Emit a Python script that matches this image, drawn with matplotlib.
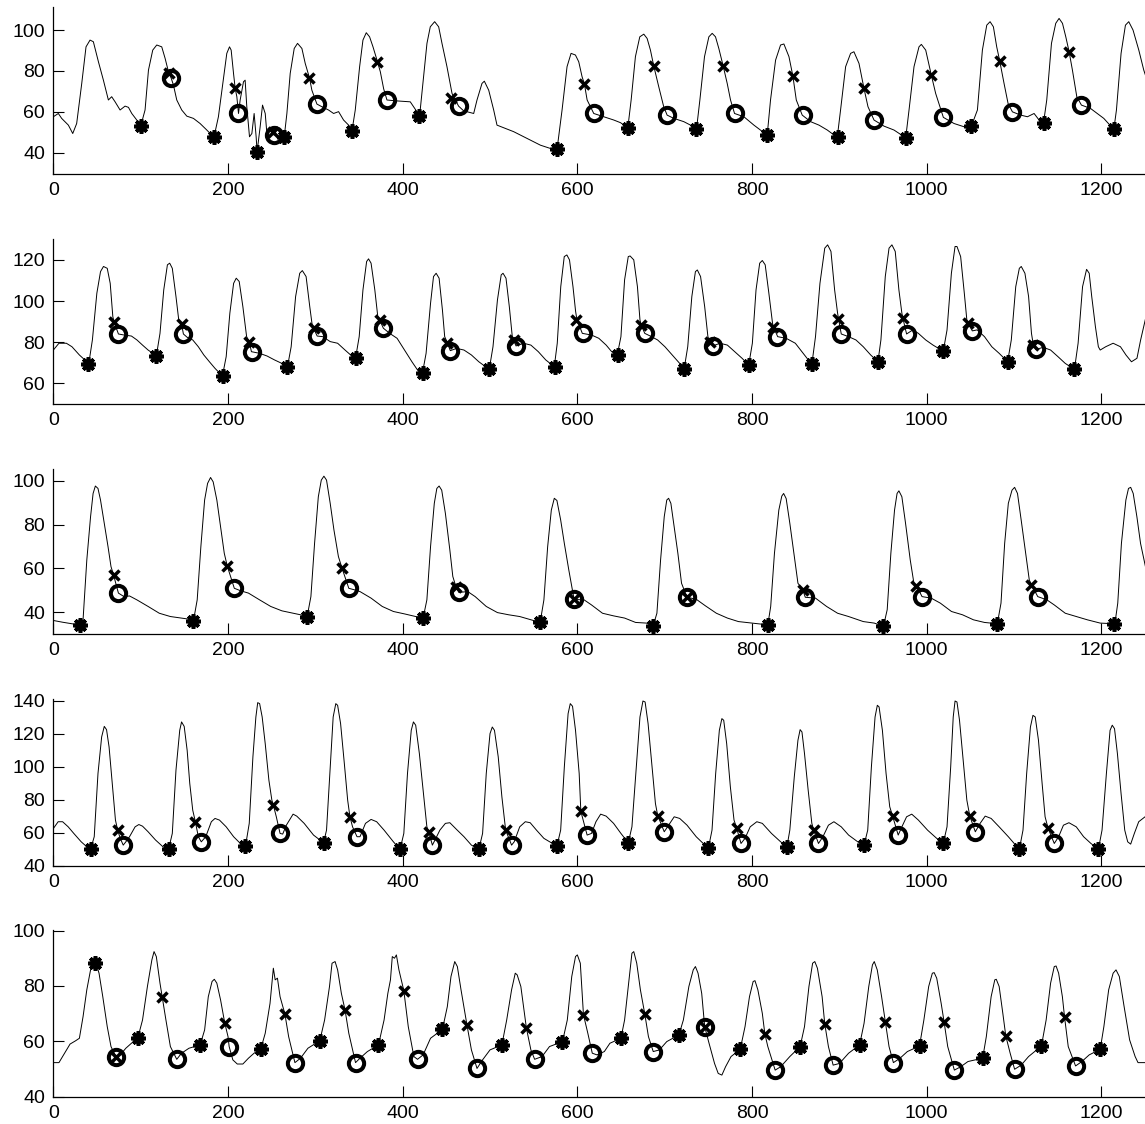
import matplotlib
matplotlib.use("Agg")
import matplotlib.pyplot as plt

plt.rcParams['font.family'] = ['Liberation Sans', 'DejaVu Sans']

# ---------------- panel 1 ----------------
trace1 = [(0, 57.6), (5.7, 59.2), (9.5, 56.8), (17.2, 53.5), (22.2, 49.4), (26.7, 54.3), (32.5, 73.9), (37.4, 91.8), (42, 95.1), (45.8, 94.3), (51.6, 84.5), (57.3, 75.5), (63, 65.8), (66.8, 67.4), (70.7, 64.9), (76.4, 60.9), (82.1, 62.8), (86, 62.2), (89.8, 59.2), (95.5, 56), (100, 53), (105, 60.9), (108.9, 80.4), (113.8, 90.2), (118.4, 92.7), (124.1, 91.8), (128, 86.1), (131.8, 79.6), (135, 76.4), (137.5, 73.1), (141.3, 65.8), (147, 60.9), (152.8, 57.9), (160.4, 56.8), (168, 54.3), (175.7, 51.1), (181.4, 48.6), (184, 47.8), (189, 57.6), (194, 73.9), (198.6, 88.6), (201.7, 91.8), (203.6, 90.2), (206.3, 78.8), (208.2, 71.5), (210.1, 67.4), (212, 59.2), (213.9, 65.8), (217.7, 74.7), (219.6, 75.5), (221.5, 62.5), (224.6, 47.8), (227.3, 49.4), (229.9, 59.2), (232.2, 47.8), (233.3, 40.5), (236.8, 52.7), (239.5, 63.3), (242.6, 59.2), (244.5, 49.4), (248.3, 51), (252.9, 48.6), (255.9, 52.7), (259.7, 49.4), (264.3, 47.5), (267.4, 59.2), (271.2, 78.8), (275.8, 91), (279.6, 93.5), (284.6, 91), (288.4, 83.7), (293.4, 76.4), (296, 70.6), (301.8, 63.8), (307.5, 62.5), (315.1, 60.9), (320.9, 59.2), (326.6, 60.1), (332.3, 56), (338.1, 53.5), (341.9, 50.6), (345.7, 60.9), (350.7, 82.1), (354.5, 95.1), (358.3, 98.7), (362.1, 96.7), (366, 91.8), (370.6, 85.3), (374.4, 79.6), (378.2, 71.3), (382, 65.8), (391.6, 65.4), (408.7, 64.9), (412.5, 62.5), (419.4, 58.1), (423.2, 73.9), (427.8, 93.5), (431.6, 101.6), (436.6, 104.1), (441.2, 101.6), (445, 93.5), (450.7, 82.1), (456.5, 69), (464, 62.8), (469.8, 60.5), (481.3, 59.2), (485.1, 65.8), (490.8, 73.9), (493.5, 75), (498.5, 70.6), (504.2, 60.9), (508, 53.5), (527.1, 50.3), (542.4, 47), (557.7, 43.7), (569.1, 42.1), (576.8, 41.8), (582.5, 60.9), (588.2, 82.1), (592.8, 88.6), (597.8, 87.8), (601.6, 84.5), (605.4, 77.2), (608.1, 73.6), (611.2, 65.8), (618.8, 59.2), (630.3, 57.6), (641.7, 56), (649.4, 54.7), (657.8, 52.2), (661.6, 65.8), (666.5, 87), (671.5, 96.7), (676.1, 98), (679.9, 95.9), (683.7, 90.2), (687.5, 82.4), (693.2, 72.3), (698.9, 62.5), (702.8, 58.4), (710.5, 56.8), (721.9, 55.2), (729.6, 53.5), (736.4, 51.4), (740.3, 65.8), (745.6, 87), (750.6, 96.7), (754.4, 98.4), (758.2, 96.7), (762, 91), (767, 82.4), (771.6, 73.9), (775.4, 65.8), (780, 59.2), (790.7, 57.6), (802.2, 53.5), (817.4, 48.6), (821.2, 65.8), (827, 85.3), (832.7, 92.7), (836.5, 93.2), (842.3, 87), (846.8, 77.5), (850.7, 65.8), (857.5, 58.4), (867.1, 55.2), (876.7, 53.5), (886.2, 51.1), (897.6, 47.5), (901.4, 60.9), (907.2, 82.1), (912.9, 88.6), (916.7, 89.4), (922.5, 83.7), (928.2, 71.5), (932.8, 62.5), (939.7, 56), (951.2, 53), (962.6, 51.1), (976, 47.3), (979.8, 60.9), (985.5, 82.1), (991.2, 91.8), (993.9, 93), (998.9, 90.2), (1005.3, 78), (1010.3, 69), (1019.1, 57.3), (1031.3, 54.3), (1042.8, 52.7), (1051.2, 53), (1058.1, 60.9), (1063.8, 90.2), (1068.8, 102.4), (1072.6, 104.1), (1076.4, 101.6), (1080.2, 91.8), (1083.6, 85), (1088.6, 73.9), (1093.2, 64.1), (1098.2, 60), (1107.7, 58.4), (1115.4, 57.6), (1123, 59.2), (1128.7, 56), (1133.7, 54.3), (1137.5, 65.8), (1142.9, 93.5), (1147.8, 103.3), (1151.6, 105.7), (1155.5, 103.3), (1159.3, 96.7), (1163.1, 89.4), (1166.9, 80.4), (1171.9, 67.4), (1177.2, 63.3), (1187.5, 61.7), (1195.2, 59.2), (1202.8, 56.8), (1214.3, 51.4), (1217.3, 60.9), (1222.6, 88.6), (1227.6, 102.4), (1231.4, 104.1), (1236.3, 100), (1242.9, 90.2), (1248.6, 80.4), (1252, 76)]
onset1_x = [100, 184, 233, 264, 342, 419, 577, 658, 736, 817, 898, 976, 1051, 1134, 1214]
onset1_y = [53, 47.8, 40.5, 47.5, 50.6, 58.1, 41.8, 52.2, 51.4, 48.6, 47.5, 47.3, 53, 54.3, 51.4]
cross1_x = [132, 208, 252, 293, 371, 455, 608, 688, 767, 847, 928, 1005, 1084, 1163]
cross1_y = [79, 71.5, 50, 76.4, 84.5, 67, 73.6, 82.4, 82.4, 77.5, 71.5, 78, 85, 89.4]
circ1_x = [135, 212, 253, 302, 382, 464, 619, 703, 780, 858, 940, 1019, 1098, 1177]
circ1_y = [76.4, 59.2, 48.6, 63.8, 65.8, 62.8, 59.2, 58.4, 59.2, 58.4, 56, 57.3, 60, 63.3]

# ---------------- panel 2 ----------------
trace2 = [(0, 76.2), (6.4, 79.5), (14.9, 79.5), (21.3, 77.8), (29.8, 73.8), (38.3, 70.5), (40.4, 69.2), (44.7, 81.1), (49.8, 103.8), (54, 114.3), (57.4, 116.8), (61.7, 115.9), (65.1, 108.6), (68.1, 92.4), (69.4, 90), (74.5, 84), (80.9, 83.5), (89.4, 83), (95.7, 81.1), (102.1, 78.6), (108.5, 76.2), (114.9, 74.3), (117.9, 73.3), (122.1, 84.3), (126.4, 105.4), (130.6, 117.6), (133.2, 118.4), (136.2, 115.9), (140.4, 102.2), (143.8, 90), (146.8, 88.9), (148.9, 84), (153.2, 82.4), (159.6, 81.1), (166, 77.8), (172.3, 73.8), (178.7, 70.5), (185.1, 67.3), (193.6, 63.6), (197.9, 73), (202.1, 94.1), (206.4, 108.6), (209.4, 111.1), (212.8, 109.5), (217, 97.3), (221.3, 82.7), (224.3, 80.3), (226.8, 75.4), (236.2, 74.6), (244.7, 73.3), (253.2, 71.4), (261.7, 69.7), (268.1, 68.1), (272.3, 77.8), (277.4, 102.2), (282.1, 113.5), (285.1, 114.8), (289.4, 111.9), (293.6, 97.3), (296.6, 87.6), (297.9, 86.8), (302.1, 83), (308.5, 82.7), (317, 80.3), (325.5, 79.5), (334, 76.2), (340.4, 73.8), (346, 72.2), (350.2, 82.7), (354.5, 105.4), (358.7, 119.2), (360.9, 120.5), (363.8, 118.4), (368.1, 105.4), (371.5, 92.4), (373.6, 90.8), (377.9, 86.8), (385.1, 84.3), (393.6, 81.9), (402.1, 76.2), (410.6, 70.5), (417, 66.5), (422.6, 64.9), (426.8, 74.6), (431.9, 98.9), (435.3, 111.9), (438.3, 113.5), (441.7, 111.1), (445.5, 95.7), (448.1, 82.7), (451.1, 79.8), (454.5, 75.9), (461.7, 77), (470.2, 76.2), (478.7, 73.8), (487.2, 70.5), (499.1, 66.8), (503.4, 77.8), (508.5, 100.5), (512.8, 112.7), (514.9, 113.5), (518.3, 111.1), (522.1, 97.3), (525.5, 82.7), (526.8, 81.1), (529.8, 78.2), (538.3, 79.5), (546.8, 78.6), (555.3, 75.4), (563.8, 71.4), (573.6, 68.1), (577, 79.5), (581, 107), (585, 121.6), (588, 122.4), (591, 120), (595, 107), (598, 95), (599.5, 91), (605.7, 84.3), (616.2, 83.5), (624.6, 81.9), (633, 78.6), (639.3, 75.4), (645.7, 73.8), (649.9, 82.7), (654.1, 110.3), (658.3, 121.6), (660.4, 121.9), (664.6, 120), (668.8, 107), (671.7, 90.8), (673, 88.4), (677.2, 84.3), (683.5, 83), (691.9, 81.1), (700.3, 77.8), (708.7, 73.8), (717.2, 69.7), (722.2, 66.8), (726.4, 77.8), (731.1, 102.2), (735.2, 114.3), (737.4, 115.1), (741.1, 111.9), (745.8, 97.3), (749.5, 82.7), (752, 80), (755, 78.2), (763.4, 79.5), (771.8, 78.6), (780.2, 75.4), (788.6, 72.2), (796.2, 68.9), (800.4, 79.5), (804.6, 105.4), (808.8, 118.4), (811.8, 119.7), (815.1, 117.6), (819.3, 103.8), (823.5, 89.2), (824.4, 87.6), (829.4, 82.7), (839.1, 81.9), (849.6, 79.5), (860.1, 73.8), (868.5, 69.2), (872.7, 82.7), (877.8, 108.6), (883.3, 125.7), (886.6, 127.3), (890.4, 124.1), (894.6, 105.4), (898, 94.1), (899.2, 91.1), (902.2, 84), (910.6, 82.7), (919, 81.1), (927.4, 77.8), (935.9, 73.8), (944.2, 70.5), (947.6, 81.1), (952.6, 111.9), (956.9, 125.7), (960.2, 127.3), (964, 124.1), (968.2, 105.4), (971.6, 94.1), (972.8, 91.6), (977, 84), (984.2, 86), (990.5, 84.3), (998.9, 81.1), (1007.3, 78.6), (1013.6, 77), (1019.1, 75.9), (1023.3, 85.9), (1028.3, 113.5), (1032.5, 126.5), (1034.7, 126.5), (1038.9, 121.6), (1043.1, 103.8), (1046, 90.8), (1047.3, 89.2), (1052.3, 85.5), (1057.8, 86), (1066.2, 82.7), (1074.6, 77.8), (1083, 74.6), (1092.7, 70.5), (1096.9, 81.1), (1102, 107), (1106.1, 115.9), (1108.3, 116.8), (1112.5, 113.5), (1116.7, 102.2), (1120, 84.3), (1122, 79), (1125, 76.5), (1133.5, 77.5), (1141.9, 76.2), (1150.3, 73), (1158.7, 69.7), (1169.2, 66.8), (1173.4, 79.5), (1178.5, 107), (1183.1, 115.4), (1186.1, 113.5), (1189, 102.2), (1193.2, 87.6), (1196.6, 77.8), (1198.7, 76.2), (1205, 77.8), (1213.5, 79.5), (1221.9, 77.8), (1228.2, 73.8), (1234.5, 70.5), (1240.8, 72.2), (1245, 81.1), (1252, 94)]
onset2_x = [40, 118, 194, 268, 346, 423, 499, 574, 646, 722, 796, 869, 944, 1019, 1093, 1169]
onset2_y = [69.2, 73.3, 63.6, 68.1, 72.2, 64.9, 66.8, 68.1, 73.8, 66.8, 68.9, 69.2, 70.5, 75.9, 70.5, 66.8]
cross2_x = [69, 147, 224, 298, 374, 451, 527, 599, 673, 752, 824, 899, 973, 1047, 1122]
cross2_y = [90, 88.9, 80.3, 86.8, 90.8, 79.8, 81.1, 91, 88.4, 80, 87.6, 91.1, 91.6, 89.2, 78.5]
circ2_x = [74.5, 149, 227, 302, 378, 454.5, 530, 606, 677, 755, 829, 902, 977, 1052, 1125]
circ2_y = [84, 84, 75.4, 83, 86.8, 75.9, 78.2, 84.3, 84.3, 78.2, 82.7, 84, 84, 85.5, 76.5]

# ---------------- panel 3 ----------------
trace3 = [(0, 36.2), (10.6, 35.4), (21.3, 34.7), (29.8, 34.2), (34, 36.5), (38.3, 63.8), (42.6, 83.6), (45.5, 94.2), (48.1, 97.6), (51.1, 96.5), (54, 91.2), (58.3, 80.6), (62.6, 69.9), (66, 60.8), (68.9, 57), (74.5, 48.7), (80.9, 47.1), (87.2, 47.4), (95.7, 45.6), (108.5, 42.6), (121.3, 39.5), (134, 38), (146.8, 37.3), (155.3, 36.8), (160.4, 36), (164.7, 45.6), (168.9, 69.9), (173.2, 91.2), (176.6, 98.8), (180, 101.5), (183, 99.5), (187.2, 91.2), (191.5, 79), (195.7, 66.9), (199.1, 61.1), (207.2, 50.9), (214.9, 49.7), (223.4, 48.7), (236.2, 45.6), (248.9, 42.6), (261.7, 40.6), (274.5, 39.5), (283, 38.8), (290.6, 38), (294.9, 47.1), (299.1, 71.4), (303.4, 92.7), (306.8, 100.3), (309.8, 102.1), (312.8, 100.3), (317, 89.7), (321.3, 77.5), (326.4, 65.4), (330.6, 60), (338.3, 50.9), (344.7, 50.2), (351.1, 49.4), (363.8, 46.4), (376.6, 42.6), (389.4, 40.3), (402.1, 39.2), (414.9, 38), (423.4, 37.3), (427.7, 45.6), (431.9, 69.9), (436.2, 89.7), (439.1, 96.5), (441.7, 97.6), (444.7, 95.7), (448.9, 85.1), (454, 68.4), (457.4, 56.3), (460.9, 51.7), (464.3, 49), (474.5, 49.4), (483, 47.1), (495.7, 42.6), (508.5, 39.8), (521.3, 38.8), (534, 38), (546.8, 36.5), (557.4, 35.3), (561.7, 45.6), (566, 69.9), (570.2, 86.6), (573.6, 92), (576.6, 91), (580.9, 82.1), (585.1, 71.4), (590.2, 59.3), (595.7, 47.1), (597, 45.8), (607.8, 45.6), (616.2, 43.3), (628.8, 39.5), (641.5, 38.3), (654.1, 37.3), (666.7, 35.3), (679.3, 35), (686.9, 33.9), (691.1, 39.5), (695.3, 63.8), (699.5, 83.6), (702.4, 91.2), (704.5, 92), (707.1, 89.7), (710.8, 79), (715.1, 66.9), (719.3, 53.2), (725.6, 46.8), (736.1, 45.9), (746.6, 42.9), (759.2, 39.5), (771.8, 37.3), (784.4, 35.7), (800, 35), (818.1, 34.2), (821.4, 42.6), (825.7, 66.9), (830.7, 86.6), (834.1, 93), (836.2, 94.2), (839.1, 91.9), (843.3, 80.6), (848.4, 65.4), (852.6, 53.2), (858, 50.3), (861, 46.8), (872.7, 46.4), (885.4, 42.6), (898, 39.5), (910.6, 38), (927.4, 35.7), (940, 35), (950.5, 33.5), (954.8, 41.1), (959, 66.9), (963.2, 86.6), (966.1, 94.2), (968.2, 95.4), (971.6, 92.7), (975.8, 80.6), (981.2, 63.8), (985.4, 53.2), (988.4, 52), (994.7, 47.1), (1005.2, 46.4), (1015.7, 44.1), (1028.4, 40.3), (1041, 38.8), (1053.6, 36.5), (1066.2, 35.3), (1080.9, 34.7), (1085.1, 44.1), (1089.3, 71.4), (1093.5, 89.7), (1097.7, 95.7), (1100.7, 97), (1104, 94.2), (1108.2, 82.1), (1113.3, 66.9), (1117.5, 54.7), (1120, 52.5), (1127.2, 47.1), (1137.7, 45.6), (1146.1, 43.3), (1158.7, 39.5), (1171.4, 38), (1184, 36.5), (1198.7, 35), (1215.5, 34.7), (1218.8, 44.1), (1223, 71.4), (1228.1, 91.2), (1231.1, 96.5), (1233.6, 97), (1236.5, 94.2), (1240.7, 83.6), (1244.9, 71.4), (1252, 58)]
onset3_x = [30, 160, 291, 423, 557, 687, 818, 950, 1081, 1215]
onset3_y = [34.2, 36, 38, 37.3, 35.3, 33.9, 34.2, 33.5, 34.7, 34.7]
cross3_x = [69, 199, 331, 461, 596, 726, 858, 988, 1120]
cross3_y = [57, 61.1, 60, 51.7, 45.9, 46.8, 50.3, 52, 52.5]
circ3_x = [74.5, 207, 338, 464, 596, 726, 861, 995, 1127]
circ3_y = [48.7, 50.9, 50.9, 49, 45.9, 46.8, 46.8, 47.1, 47.1]

# ---------------- panel 4 ----------------
trace4 = [(0, 62.6), (5.5, 66.7), (10.6, 66.7), (17, 63.6), (23.4, 59.6), (31.9, 54.5), (38.3, 51.5), (42.6, 49.9), (46.8, 57.6), (51.1, 96), (55.3, 118.2), (58.3, 124.6), (60.9, 122.6), (63.8, 112.1), (68.1, 85.9), (71.1, 67.7), (73.6, 61.6), (76.6, 56.6), (80, 52.5), (83, 54.5), (87.2, 57.6), (93.6, 63.6), (97.9, 65), (102.1, 64), (108.5, 60.6), (117, 55.6), (125.5, 51.5), (131.9, 49.9), (136.2, 59.6), (140.4, 98), (144.7, 122.2), (146.8, 127.3), (149.8, 124.6), (153.2, 110.1), (156.2, 89.9), (159.6, 73.7), (162.6, 66.7), (166, 57.6), (169.4, 54.5), (174.5, 57.6), (180.9, 66.7), (185.1, 68.7), (190.2, 67.7), (197.9, 63.6), (206.4, 57.6), (214.9, 53.1), (220, 51.9), (224.3, 65.7), (228.5, 106.1), (231.9, 130.3), (234, 139), (236.2, 138.4), (239.1, 130.3), (242.6, 114.1), (246.8, 91.9), (250.2, 79.8), (251.9, 76.8), (255.3, 69.7), (259.6, 59.6), (262.6, 59.2), (266.8, 64.6), (274.5, 71.3), (278.7, 70.1), (287.2, 65.7), (297.9, 58.6), (309.4, 53.9), (312.8, 61.6), (317, 100), (320.4, 130.3), (323.4, 138.4), (325.5, 137.4), (328.9, 126.3), (333.2, 102), (337, 79.8), (339.6, 69.7), (342.6, 63.6), (347.7, 57.6), (351.1, 57.6), (357.4, 65.7), (363.8, 68.1), (370.2, 66.7), (378.7, 61.6), (389.4, 54.5), (397, 49.9), (401.3, 59.6), (405.5, 96), (409.8, 122.2), (412.3, 127.3), (414.9, 125.3), (419.1, 108.1), (423.4, 85.9), (427.7, 63.6), (429.8, 60.6), (434, 52.5), (437, 55.6), (442.6, 61.6), (448.9, 65.7), (454, 66.1), (461.7, 62), (470.2, 57.6), (478.7, 52.5), (487.2, 49.9), (491.5, 59.6), (495.7, 96), (500, 120.2), (502.6, 124.2), (505.1, 122.2), (509.4, 106.1), (513.6, 81.8), (517, 65.7), (517.9, 61.6), (524.7, 52.5), (527.7, 54.5), (534, 63.6), (540.4, 66.7), (546, 66.1), (553.2, 61.6), (561.7, 56.6), (576.6, 51.9), (580.9, 61.6), (585.1, 100), (589.4, 132.3), (591.9, 138.4), (594.5, 136.8), (597.9, 122.2), (602.1, 96), (604, 73), (611.2, 58.6), (616.2, 59.6), (621.3, 66.7), (626.7, 71.3), (633, 70.1), (641.5, 65.7), (649.9, 59.6), (658.3, 53.9), (662.5, 63.6), (667.5, 100), (671.7, 130.3), (675.1, 140), (677.6, 139.4), (681, 126.3), (685.2, 102), (689.4, 77.8), (691.9, 70.7), (699.5, 60.6), (704.5, 64.6), (710.9, 69.7), (717.2, 68.7), (725.6, 64.6), (736.1, 57.6), (750, 50.5), (754.2, 61.6), (758.4, 96), (762.6, 122.2), (765.5, 129.3), (767.6, 128.3), (771, 114.1), (775.2, 87.9), (779.4, 67.7), (782.3, 63), (787.4, 53.5), (792, 56.6), (797.9, 63.6), (805.5, 66.7), (811.8, 65.7), (822.3, 59.6), (832.8, 54.5), (840, 51.5), (843.3, 61.6), (848.4, 93.9), (852.6, 116.2), (855.1, 122.6), (857.2, 121.2), (860.1, 108.1), (864.3, 85.9), (868.5, 65.7), (870.6, 61.6), (876.1, 53.5), (881.2, 57.6), (887.5, 64.6), (893.8, 66.7), (902.2, 63.6), (910.6, 58.6), (921.1, 54.5), (928.3, 52.5), (932.5, 61.6), (936.7, 100), (940.9, 130.3), (943.5, 137.4), (945.5, 136.4), (949.3, 122.2), (953.5, 96), (957.7, 75.8), (961, 70.1), (967.4, 58.6), (971.6, 63.6), (977, 69.7), (982.9, 71.3), (990.5, 67.7), (1001, 61.6), (1011.5, 56.6), (1019.1, 53.9), (1023.3, 63.6), (1027.5, 100), (1030.4, 130.3), (1032.5, 140), (1034.7, 139.4), (1037.6, 128.3), (1041.8, 104), (1046, 79.8), (1049.4, 70.1), (1055.7, 60.6), (1061.2, 65.7), (1067, 70.1), (1073.8, 68.7), (1083, 63.6), (1093.5, 57.6), (1106.1, 49.9), (1110.3, 61.6), (1114.5, 96), (1118.8, 124.2), (1121.7, 131.3), (1124.3, 130.3), (1128, 116.2), (1132.2, 89.9), (1135.6, 69.7), (1138.9, 63), (1146.1, 53.5), (1151.1, 57.6), (1156.6, 64.6), (1162.9, 66.1), (1171.3, 63.6), (1179.7, 57.6), (1188.1, 53.5), (1196.6, 49.9), (1200.8, 61.6), (1205.8, 96), (1210, 122.2), (1212.5, 125.3), (1215.1, 123.2), (1218.4, 108.1), (1222.6, 83.8), (1226.8, 61.6), (1230.2, 54.5), (1233.6, 53.1), (1237.8, 59.6), (1242.8, 66.7), (1252, 70.5)]
onset4_x = [42.6, 131.9, 220, 309.4, 397, 487.2, 576.6, 658.3, 750, 840, 928.3, 1019.1, 1106.1, 1196.6]
onset4_y = [49.9, 49.9, 51.9, 53.9, 49.9, 49.9, 51.9, 53.9, 50.5, 51.5, 52.5, 53.9, 49.9, 49.9]
cross4_x = [73.6, 162.6, 251.9, 339.6, 429.8, 517.9, 604, 691.9, 782.3, 870.6, 961, 1049.4, 1138.9]
cross4_y = [61.6, 66.7, 76.8, 69.7, 60.6, 61.6, 73, 70.1, 63, 61.6, 70.1, 70.1, 63]
circ4_x = [80, 169.4, 259.6, 347.7, 434, 524.7, 611.2, 699.5, 787.4, 876.1, 967.4, 1055.7, 1146.1]
circ4_y = [52.5, 54.5, 59.6, 57.6, 52.5, 52.5, 58.6, 60.6, 53.5, 53.5, 58.6, 60.6, 53.5]

# ---------------- panel 5 ----------------
trace5 = [(0, 52.3), (6.4, 52.3), (12.8, 55.7), (19.1, 59), (25.5, 60.2), (29.8, 61.1), (34, 68.9), (38.3, 78.6), (42.6, 85.8), (47.7, 89.2), (52.3, 84.6), (56.6, 76.1), (61.7, 65.3), (66, 58.1), (71.5, 54.5), (76.6, 55.1), (83, 57.5), (89.4, 59.3), (96.6, 61.1), (102.1, 67.7), (107.7, 79.8), (112.8, 89.4), (115.3, 92.4), (117.9, 90.6), (122.1, 81), (124.7, 75.9), (128.9, 67.7), (134, 58.1), (141.3, 53.5), (146.8, 55.7), (155.3, 57.5), (168.1, 58.7), (173.2, 64.1), (177.4, 76.1), (181.7, 81.6), (184.3, 82.4), (187.2, 81), (191.5, 74.9), (196.2, 66.7), (200, 61.7), (201.3, 58.1), (205.5, 53.3), (210.6, 51.8), (217, 51.8), (223.4, 53.9), (229.8, 55.7), (237.4, 57.1), (242.6, 62.9), (248.1, 73.7), (251.9, 86.4), (254, 82.2), (256.6, 82.8), (259.6, 76.1), (265.1, 69.9), (269.4, 61.7), (276.6, 52.3), (283, 53.9), (291.5, 57.5), (305.1, 60.2), (310.6, 67.7), (316.2, 79.8), (319.1, 88.2), (322.6, 88.8), (325.5, 85.8), (329.8, 77.3), (334, 71.3), (338.3, 62.9), (346, 52.3), (351.1, 53.9), (359.6, 56.3), (372.3, 58.7), (378.7, 67.7), (383, 77.3), (386, 82.2), (388.1, 90.6), (390.6, 90), (392.8, 91.2), (395.7, 85.8), (401.3, 78.3), (406.4, 65.3), (412.8, 54.5), (417, 53.5), (423.4, 55.1), (431.9, 61.1), (445.5, 64.3), (451.1, 72.5), (455.3, 83.4), (459.6, 88.8), (462.6, 87), (466.8, 78.6), (473.6, 65.9), (478.7, 56.9), (485.1, 50.2), (491.5, 53.3), (500, 56.9), (513.6, 58.7), (519.1, 67.7), (524.7, 78.6), (528.9, 84.6), (531.1, 84), (535.3, 79.8), (541.7, 64.7), (546.8, 56.9), (551.1, 53.5), (559.6, 54.5), (568.1, 58.1), (583, 59.9), (588.5, 67.7), (593.6, 83.4), (597.9, 90.6), (600, 91.2), (603.4, 88.2), (607, 69.6), (612, 62.9), (617.1, 55.7), (622.5, 55.1), (630.9, 56.3), (637.3, 59.3), (649.9, 61.1), (654.1, 67.7), (658.3, 79.8), (662.5, 91.8), (664.6, 92.4), (668, 88.2), (672.2, 78.6), (677.2, 69.9), (681.4, 61.7), (686.9, 56.3), (694, 56.9), (702.4, 59.9), (716.3, 62.3), (721.4, 67.7), (727.7, 79.8), (732.7, 85.8), (735.2, 87), (738.2, 84.6), (742.4, 77.3), (745.8, 65.3), (750.8, 59.3), (757.1, 52), (761.3, 48.4), (765.5, 47.8), (769.7, 50.8), (776, 54.5), (786.5, 57.1), (792, 65.3), (797.1, 76.1), (801.3, 81.6), (803.4, 81.9), (806.7, 78.6), (811.8, 70.1), (814.7, 62.7), (818.1, 58.1), (826.5, 49.6), (832.8, 50.8), (843.3, 54.5), (855.1, 58.1), (860.1, 65.3), (865.2, 79.8), (869.4, 88.2), (871.9, 88.8), (874.9, 86.4), (880.3, 76.1), (883.3, 66.3), (887.5, 58.1), (892.9, 51.4), (900.1, 52), (910.6, 55.7), (923.2, 58.7), (928.3, 66.5), (933.7, 79.8), (937.9, 87.6), (940, 88.8), (943.4, 85.8), (948.4, 76.1), (952.6, 67.1), (956.9, 58.1), (961.9, 52.3), (969.5, 53.9), (977.9, 56.3), (991.8, 58.3), (996.8, 67.7), (1002.3, 79.8), (1006.5, 84.6), (1008.6, 84.8), (1011.5, 82.8), (1016.6, 73.7), (1019.9, 67.1), (1024.1, 58.1), (1031.7, 49.6), (1038.9, 50.8), (1047.3, 52.7), (1064.1, 53.9), (1068.3, 61.7), (1073.8, 76.1), (1078, 82.2), (1079.7, 82.4), (1083, 79.8), (1087.2, 70.1), (1090.6, 61.9), (1095.6, 55.7), (1100.7, 49.9), (1108.2, 51.4), (1116.7, 54.5), (1131.4, 58.3), (1136.8, 67.7), (1141.9, 81), (1146.1, 87), (1148.2, 87.2), (1151.1, 84.6), (1155.4, 76.1), (1157.9, 68.7), (1162.1, 58.1), (1170.5, 51.1), (1177.7, 52.7), (1186.1, 55.1), (1198.7, 57.1), (1202.9, 65.3), (1208.4, 78.6), (1213.5, 84.6), (1216.8, 85.8), (1220.6, 83.4), (1226.1, 72.5), (1232.4, 60.5), (1238.7, 54.5), (1242, 52.3), (1252, 52.3)]
onset5_x = [47.7, 96.6, 168.1, 237.4, 305.1, 372.3, 445.5, 513.6, 583, 649.9, 716.3, 786.5, 855.1, 923.2, 991.8, 1064.1, 1131.4, 1198.7]
onset5_y = [88.4, 61.1, 58.7, 57.1, 60.2, 58.7, 64.3, 58.7, 59.9, 61.1, 62.3, 57.1, 58.1, 58.7, 58.3, 53.9, 58.3, 57.1]
cross5_x = [71.5, 124.7, 196.2, 265.1, 334, 401.3, 473.6, 541.7, 607, 677.2, 745.8, 814.7, 883.3, 952.6, 1019.9, 1090.6, 1157.9]
cross5_y = [54.5, 75.9, 66.7, 69.9, 71.3, 78.3, 65.9, 64.7, 69.6, 69.9, 65.3, 62.7, 66.3, 67.1, 67.1, 61.9, 68.7]
circ5_x = [71.5, 141.3, 201.3, 276.6, 346, 417, 485.1, 551.1, 617.1, 686.9, 745.8, 826.5, 892.9, 961.9, 1031.7, 1100.7, 1170.5]
circ5_y = [54.5, 53.5, 58.1, 52.3, 52.3, 53.5, 50.2, 53.5, 55.7, 56.3, 65.3, 49.6, 51.4, 52.3, 49.6, 49.9, 51.1]

x_ticks = [0, 200, 400, 600, 800, 1000, 1200]
panels = [
    (trace1, onset1_x, onset1_y, cross1_x, cross1_y, circ1_x, circ1_y, (29.6, 111.3), [40, 60, 80, 100]),
    (trace2, onset2_x, onset2_y, cross2_x, cross2_y, circ2_x, circ2_y, (50, 130), [60, 80, 100, 120]),
    (trace3, onset3_x, onset3_y, cross3_x, cross3_y, circ3_x, circ3_y, (30, 105.2), [40, 60, 80, 100]),
    (trace4, onset4_x, onset4_y, cross4_x, cross4_y, circ4_x, circ4_y, (40, 141), [40, 60, 80, 100, 120, 140]),
    (trace5, onset5_x, onset5_y, cross5_x, cross5_y, circ5_x, circ5_y, (40, 100.2), [40, 60, 80, 100]),
]
# axes bottom / height as figure fractions
boxes = [(0.8452, 0.1486), (0.6406, 0.1465), (0.4359, 0.1465), (0.2298, 0.1480), (0.0243, 0.1483)]

fig = plt.figure(figsize=(11.45, 11.24), dpi=100)
for (tr, ax_, ay_, xx_, xy_, ox_, oy_, ylim, yt), (b, h) in zip(panels, boxes):
    ax = fig.add_axes([0.0466, b, 0.9534, h])
    t, v = zip(*tr)
    ax.plot(t, v, color='k', lw=0.7)
    ax.plot(ax_, ay_, ls='none', marker=(8, 2, 0), ms=10.5, mew=2.6, color='k')
    ax.plot(xx_, xy_, ls='none', marker='x', ms=7, mew=2.5, color='k')
    ax.plot(ox_, oy_, ls='none', marker='o', ms=11, mew=2.9, mfc='none', mec='k')
    ax.set_xlim(0, 1250)
    ax.set_ylim(*ylim)
    ax.set_xticks(x_ticks)
    ax.set_yticks(yt)
    ax.spines['top'].set_visible(False)
    ax.spines['right'].set_visible(False)
    ax.spines['left'].set_linewidth(0.9)
    ax.spines['bottom'].set_linewidth(0.9)
    ax.tick_params(direction='in', length=8, width=0.8, labelsize=14, pad=6)

fig.savefig('out.png', dpi=100)
